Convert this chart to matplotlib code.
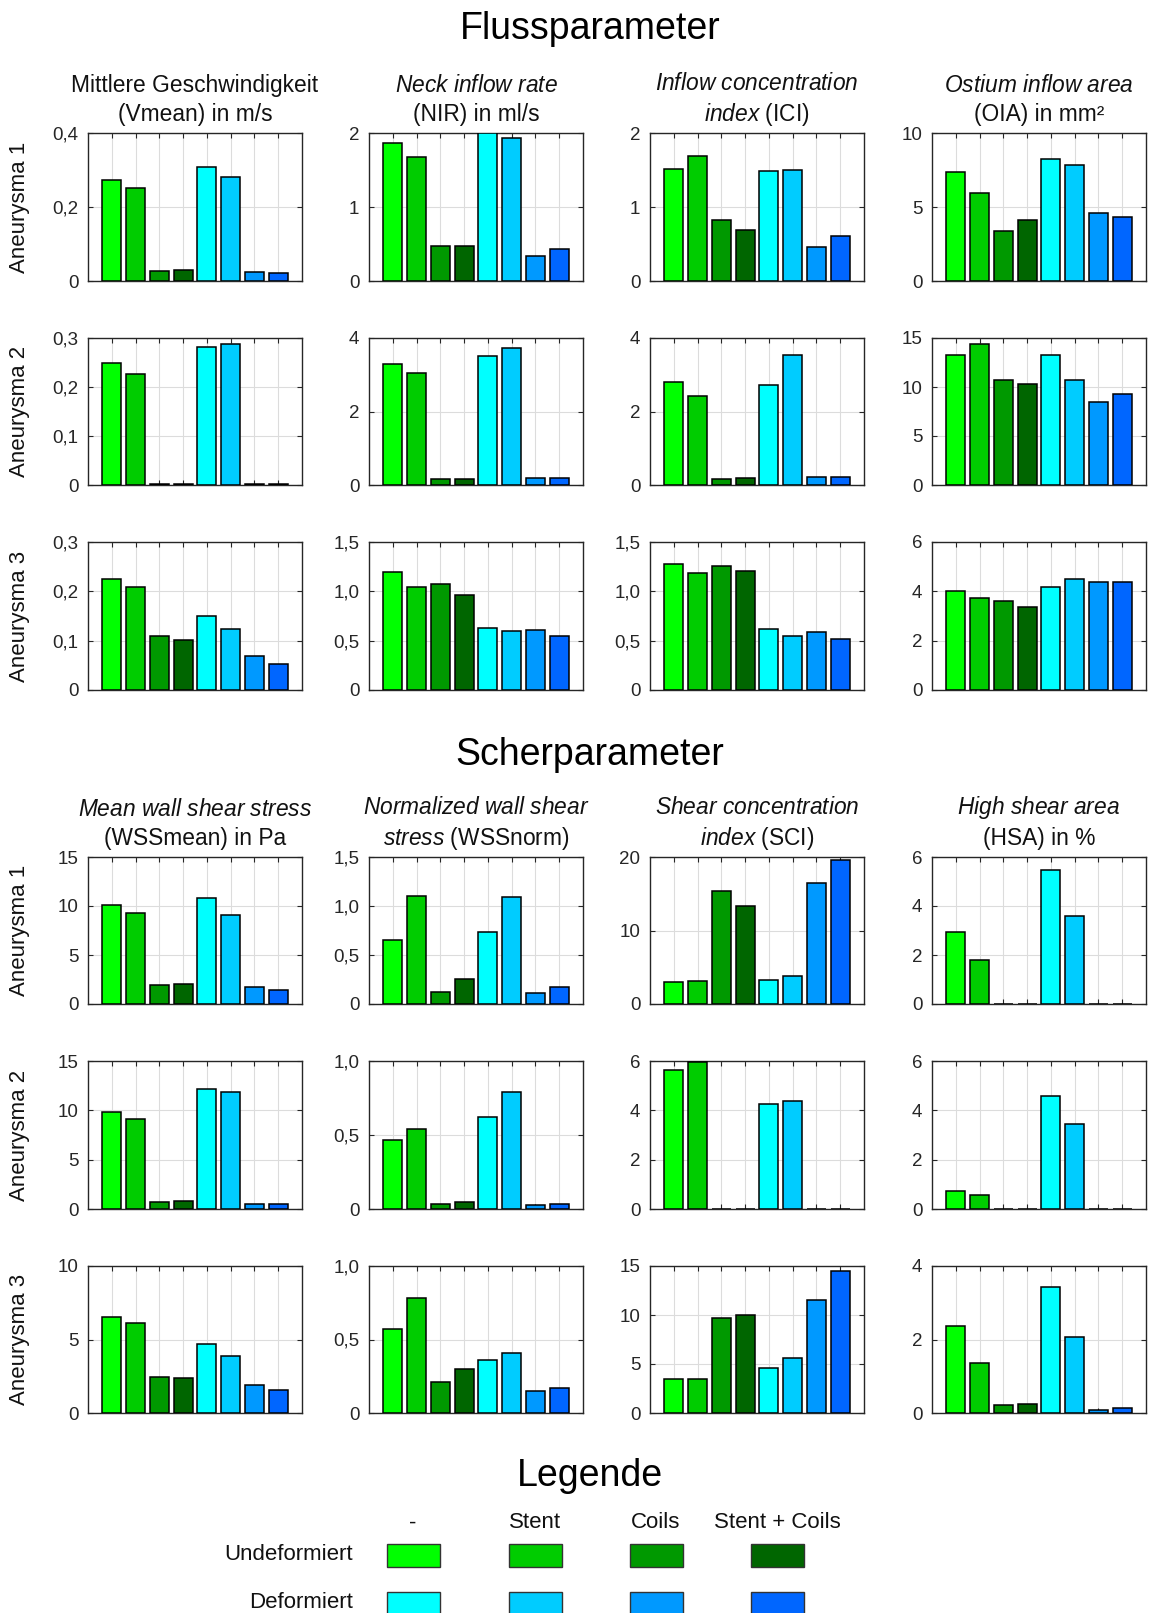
import matplotlib
matplotlib.use('Agg')
import matplotlib.pyplot as plt
from matplotlib.patches import Rectangle
from matplotlib.ticker import FuncFormatter
import numpy as np

plt.rcParams['font.family'] = ['Liberation Sans', 'DejaVu Sans']
plt.rcParams['mathtext.fontset'] = 'custom'
plt.rcParams['mathtext.rm'] = 'Liberation Sans'
plt.rcParams['mathtext.it'] = 'Liberation Sans:italic'
plt.rcParams['mathtext.bf'] = 'Liberation Sans:bold'

# ---------------- data ----------------
conditions = ['-', 'Stent', 'Coils', 'Stent + Coils']
states = ['Undeformiert', 'Deformiert']
colors_undeformed = ['#00FF00', '#00CC00', '#009900', '#006600']
colors_deformed = ['#00FFFF', '#00CCFF', '#0099FF', '#0066FF']
aneurysms = ['Aneurysma 1', 'Aneurysma 2', 'Aneurysma 3']

# bar order: undeformed (-, Stent, Coils, Stent+Coils), deformed (-, Stent, Coils, Stent+Coils)
vmean = [
    [0.273, 0.252, 0.028, 0.031, 0.307, 0.282, 0.023, 0.021],
    [0.249, 0.227, 0.003, 0.003, 0.281, 0.287, 0.003, 0.003],
    [0.226, 0.209, 0.109, 0.101, 0.149, 0.124, 0.068, 0.053],
]
nir = [
    [1.87, 1.68, 0.467, 0.47, 2.0, 1.93, 0.336, 0.426],
    [3.28, 3.05, 0.154, 0.17, 3.52, 3.72, 0.2, 0.2],
    [1.199, 1.04, 1.074, 0.963, 0.628, 0.595, 0.611, 0.547],
]
ici = [
    [1.515, 1.687, 0.825, 0.685, 1.487, 1.506, 0.453, 0.608],
    [2.79, 2.42, 0.154, 0.18, 2.73, 3.55, 0.226, 0.217],
    [1.274, 1.186, 1.26, 1.206, 0.622, 0.547, 0.588, 0.52],
]
oia = [
    [7.36, 5.93, 3.39, 4.11, 8.27, 7.82, 4.57, 4.30],
    [13.3, 14.35, 10.69, 10.35, 13.24, 10.69, 8.52, 9.33],
    [4.0, 3.72, 3.59, 3.38, 4.19, 4.5, 4.36, 4.36],
]
wssmean = [
    [10.15, 9.3, 1.93, 2.07, 10.86, 9.1, 1.70, 1.39],
    [9.82, 9.11, 0.71, 0.78, 12.16, 11.85, 0.54, 0.51],
    [6.56, 6.13, 2.42, 2.35, 4.66, 3.85, 1.88, 1.56],
]
wssnorm = [
    [0.658, 1.103, 0.126, 0.258, 0.733, 1.096, 0.115, 0.176],
    [0.465, 0.54, 0.034, 0.045, 0.623, 0.788, 0.027, 0.032],
    [0.570, 0.781, 0.208, 0.296, 0.36, 0.405, 0.147, 0.167],
]
sci = [
    [2.94, 3.17, 15.38, 13.3, 3.30, 3.85, 16.47, 19.64],
    [5.62, 5.96, 0.02, 0.02, 4.24, 4.36, 0.02, 0.02],
    [3.43, 3.5, 9.74, 10.05, 4.55, 5.57, 11.57, 14.49],
]
hsa = [
    [2.94, 1.80, 0.02, 0.02, 5.45, 3.61, 0.02, 0.02],
    [0.747, 0.57, 0.01, 0.01, 4.57, 3.43, 0.01, 0.01],
    [2.37, 1.35, 0.226, 0.25, 3.44, 2.06, 0.09, 0.135],
]

# y ticks per parameter, per aneurysm row
vmean_ticks = [[0, 0.2, 0.4], [0, 0.1, 0.2, 0.3], [0, 0.1, 0.2, 0.3]]
nir_ticks = [[0, 1, 2], [0, 2, 4], [0, 0.5, 1.0, 1.5]]
ici_ticks = [[0, 1, 2], [0, 2, 4], [0, 0.5, 1.0, 1.5]]
oia_ticks = [[0, 5, 10], [0, 5, 10, 15], [0, 2, 4, 6]]
wssmean_ticks = [[0, 5, 10, 15], [0, 5, 10, 15], [0, 5, 10]]
wssnorm_ticks = [[0, 0.5, 1.0, 1.5], [0, 0.5, 1.0], [0, 0.5, 1.0]]
sci_ticks = [[0, 10, 20], [0, 2, 4, 6], [0, 5, 10, 15]]
hsa_ticks = [[0, 2, 4, 6], [0, 2, 4, 6], [0, 2, 4]]

flow_titles = [
    'Mittlere Geschwindigkeit\n(Vmean) in m/s',
    '$\\mathit{Neck\\ inflow\\ rate}$\n(NIR) in ml/s',
    '$\\mathit{Inflow\\ concentration}$\n$\\mathit{index}$ (ICI)',
    '$\\mathit{Ostium\\ inflow\\ area}$\n(OIA) in mm²',
]
shear_titles = [
    '$\\mathit{Mean\\ wall\\ shear\\ stress}$\n(WSSmean) in Pa',
    '$\\mathit{Normalized\\ wall\\ shear}$\n$\\mathit{stress}$ (WSSnorm)',
    '$\\mathit{Shear\\ concentration}$\n$\\mathit{index}$ (SCI)',
    '$\\mathit{High\\ shear\\ area}$\n(HSA) in %',
]

flow_data = [vmean, nir, ici, oia]
flow_ticks = [vmean_ticks, nir_ticks, ici_ticks, oia_ticks]
shear_data = [wssmean, wssnorm, sci, hsa]
shear_ticks = [wssmean_ticks, wssnorm_ticks, sci_ticks, hsa_ticks]

# ---------------- layout ----------------
W, H = 1149, 1613
fig = plt.figure(figsize=(W / 100, H / 100), dpi=100)

col_left = [88, 369, 650, 932]
ax_w = 214
flow_rows = [(133, 281), (338, 485), (542, 690)]
shear_rows = [(857, 1004), (1061, 1209), (1266, 1413)]

bar_colors = colors_undeformed + colors_deformed
xpos = np.arange(1, 9)
dark = '#262626'


def make_formatter(ticks):
    step = ticks[1] - ticks[0]
    dec = 0 if float(step).is_integer() else 1

    def f(v, pos):
        if abs(v) < 1e-12:
            return '0'
        return (f'{v:.{dec}f}').replace('.', ',')
    return FuncFormatter(f)


def draw_block(data, ticks, titles, rows):
    for c in range(4):
        for r in range(3):
            top, bot = rows[r]
            rect = [col_left[c] / W, 1 - bot / H, ax_w / W, (bot - top) / H]
            ax = fig.add_axes(rect)
            ax.bar(xpos, data[c][r], width=0.8, color=bar_colors,
                   edgecolor='black', linewidth=1.1, zorder=3)
            ax.set_xlim(0, 9)
            tk = ticks[c][r]
            ax.set_ylim(tk[0], tk[-1])
            ax.set_yticks(tk)
            ax.yaxis.set_major_formatter(make_formatter(tk))
            ax.set_xticks(xpos)
            ax.set_xticklabels([])
            ax.tick_params(direction='in', top=True, right=True, length=3.5,
                           width=0.8, colors=dark, labelsize=13.5, pad=7)
            ax.tick_params(axis='y', labelcolor=dark)
            ax.grid(True, color='#dcdcdc', linewidth=0.8)
            ax.set_axisbelow(True)
            for s in ax.spines.values():
                s.set_color(dark)
                s.set_linewidth(1.0)
            if r == 0:
                ax.set_title(titles[c], fontsize=16.4, pad=9, color='#111111',
                             linespacing=1.3)
            if c == 0:
                ax.set_ylabel(aneurysms[r], fontsize=16, color='#111111')
                ax.yaxis.set_label_coords(-0.27, 0.5)


draw_block(flow_data, flow_ticks, flow_titles, flow_rows)
draw_block(shear_data, shear_ticks, shear_titles, shear_rows)

fig.text(590 / W, 1 - 29 / H, 'Flussparameter', ha='center', va='center',
         fontsize=27, color='black')
fig.text(590 / W, 1 - 755 / H, 'Scherparameter', ha='center', va='center',
         fontsize=27, color='black')

# ---------------- legend ----------------
leg = fig.add_axes([0, 0, 1, 1], zorder=-1)
leg.set_xlim(0, W)
leg.set_ylim(H, 0)
leg.axis('off')
leg.text(590, 1476, 'Legende', ha='center', va='center', fontsize=27,
         color='black')
leg_cols = [413, 535, 656, 777]
leg_rows = [1555, 1603]
pw, ph = 53, 23
for j, name in enumerate(conditions):
    leg.text(leg_cols[j], 1523, name, ha='center', va='center', fontsize=16,
             color='#111111')
for i, (st, cols) in enumerate(zip(states, [colors_undeformed, colors_deformed])):
    leg.text(353, leg_rows[i], st, ha='right', va='center', fontsize=16,
             color='#111111')
    for j in range(4):
        leg.add_patch(Rectangle((leg_cols[j] - pw / 2, leg_rows[i] - ph / 2),
                                pw, ph, facecolor=cols[j], edgecolor='#333333',
                                linewidth=1.0))

fig.savefig('out.png', dpi=100)
